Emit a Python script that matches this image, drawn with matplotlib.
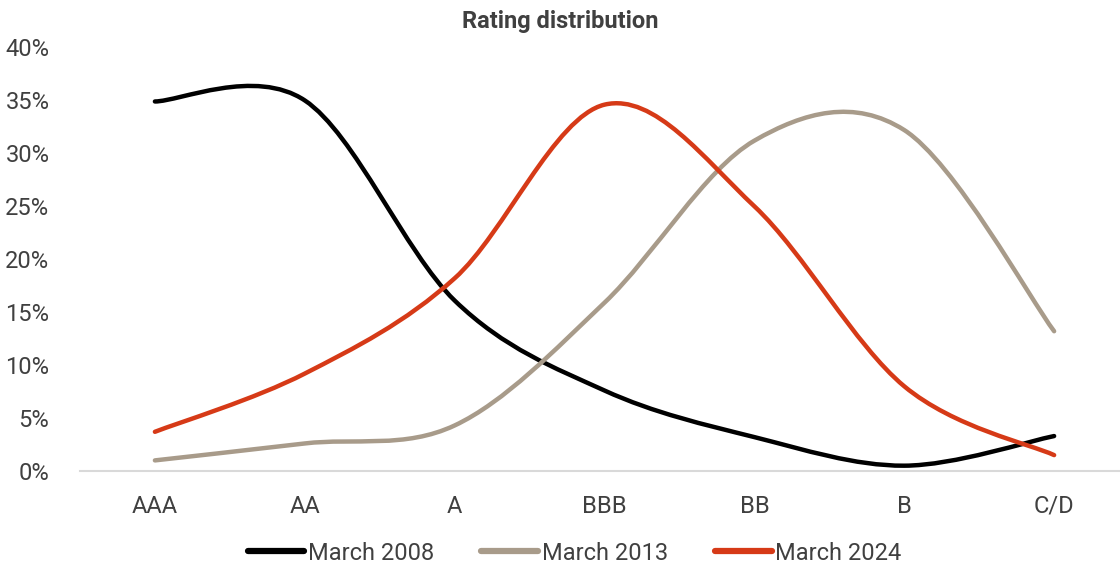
import numpy as np
import matplotlib
matplotlib.use("Agg")
import matplotlib.pyplot as plt
from matplotlib.path import Path
from matplotlib.patches import PathPatch
from matplotlib.lines import Line2D
from matplotlib.ticker import PercentFormatter

# Data (share of issuers, %)
ratings = ["AAA", "AA", "A", "BBB", "BB", "B", "C/D"]
march_2008 = [34.9, 35.0, 16.1, 7.6, 3.2, 0.5, 3.3]
march_2013 = [1.0, 2.6, 4.3, 15.9, 31.2, 32.2, 13.2]
march_2024 = [3.7, 9.2, 18.2, 34.6, 25.0, 8.0, 1.5]

series = [("March 2008", march_2008, "#000000"),
          ("March 2013", march_2013, "#A89B8A"),
          ("March 2024", march_2024, "#D63A17")]

text_col = "#404040"
plt.rcParams["font.family"] = ["Roboto", "DejaVu Sans"]


def smooth_path(xs, ys, k=1/6):
    # Excel-like smoothed line: cubic Bezier segments through every point
    xs = np.asarray(xs, float)
    ys = np.asarray(ys, float)
    n = len(xs)
    verts = [(xs[0], ys[0])]
    codes = [Path.MOVETO]
    for i in range(n - 1):
        i0 = max(i - 1, 0)
        i3 = min(i + 2, n - 1)
        c1 = (xs[i] + (xs[i + 1] - xs[i0]) * k, ys[i] + (ys[i + 1] - ys[i0]) * k)
        c2 = (xs[i + 1] - (xs[i3] - xs[i]) * k, ys[i + 1] - (ys[i3] - ys[i]) * k)
        verts += [c1, c2, (xs[i + 1], ys[i + 1])]
        codes += [Path.CURVE4] * 3
    return Path(verts, codes)


fig = plt.figure(figsize=(11.2, 5.68), dpi=100)
ax = fig.add_axes([0.0714, 0.1708, 0.93, 0.7456])

x = np.arange(len(ratings))
handles = []
for label, vals, col in series:
    p = smooth_path(x, vals)
    ax.add_patch(PathPatch(p, fill=False, edgecolor=col, lw=3.2,
                           capstyle="round", joinstyle="round"))
    handles.append(Line2D([], [], color=col, lw=4.5, solid_capstyle="round", label=label))

ax.set_xlim(-0.5, 6.45)
ax.set_ylim(0, 40)
ax.set_xticks(x)
ax.set_xticklabels(ratings)
ax.set_yticks(np.arange(0, 41, 5))
ax.yaxis.set_major_formatter(PercentFormatter(decimals=0))
ax.tick_params(length=0, labelsize=17, labelcolor=text_col)
ax.tick_params(axis="x", pad=17)
ax.tick_params(axis="y", pad=22)

for s in ["top", "right", "left"]:
    ax.spines[s].set_visible(False)
ax.spines["bottom"].set_color("#D9D9D9")
ax.spines["bottom"].set_linewidth(1.5)

fig.text(0.5, 0.963, "Rating distribution", ha="center", va="center",
         fontsize=17, fontweight="bold", color=text_col)

fig.legend(handles=handles, loc="center", bbox_to_anchor=(0.513, 0.026), ncol=3,
           frameon=False, fontsize=17, handlelength=2.4, handletextpad=0.15,
           columnspacing=2.0, labelcolor=text_col)

fig.savefig("out.png", dpi=100)
